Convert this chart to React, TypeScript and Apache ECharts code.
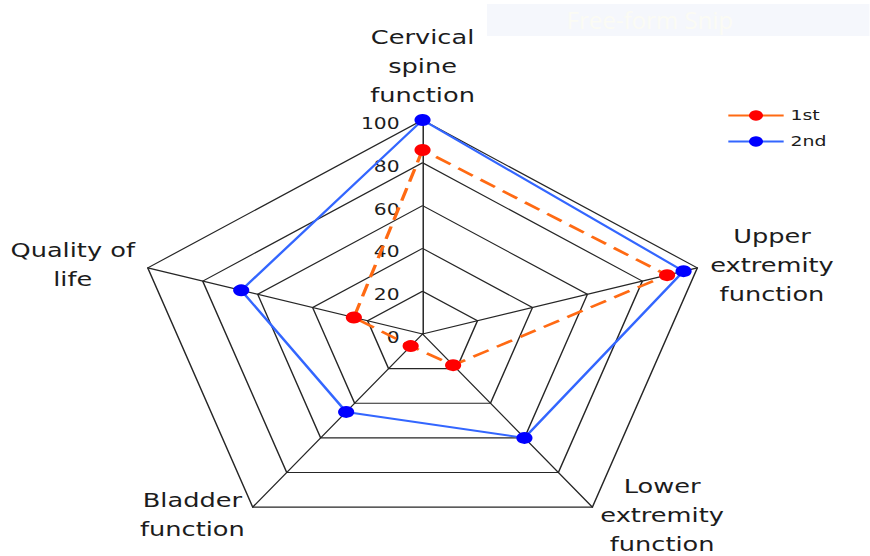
import React, { useEffect, useRef } from 'react';
import * as echarts from 'echarts';

// Indicators listed counter-clockwise from the top (ECharts radar order)
const indicators = [
  'Cervical\nspine\nfunction',
  'Quality of\nlife',
  'Bladder\nfunction',
  'Lower\nextremity\nfunction',
  'Upper\nextremity\nfunction',
];
const axisMin = 0;
const axisMax = 100;
const tickInterval = 20;
const seriesNames = ['1st', '2nd'];
const firstValues = [86, 25, 7, 18, 89];
const secondValues = [100, 66, 45, 60, 95];
const snipText = 'Free-form Snip';

const SX = 1.35;
const CW = 870 / SX;
const CH = 556;
const FONT = 'DejaVu Sans';
const TEXT = '#1c1c1c';
const GRID = '#262626';

export default function App() {
  const ref = useRef<HTMLDivElement>(null);
  useEffect(() => {
    if (!ref.current) return;
    const chart = echarts.init(ref.current, undefined, { renderer: 'svg' });
    const center = [313, 334];
    const radius = 214;
    chart.setOption({
      animation: false,
      backgroundColor: '#ffffff',
      legend: {
        data: seriesNames,
        orient: 'vertical',
        left: 538.5,
        top: 108.5,
        padding: 0,
        itemWidth: 41,
        itemHeight: 13,
        itemGap: 12,
        textStyle: { fontFamily: FONT, fontSize: 14, color: TEXT },
      },
      grid: { show: false, left: 0, top: 0, width: 1, height: 1 },
      xAxis: { show: false, type: 'category', data: [] },
      yAxis: { show: false, type: 'value' },
      // label-only polar axis, its labels sit slightly below the rings as in Excel
      polar: { center: [center[0], center[1] + 3.5], radius },
      angleAxis: { show: false, startAngle: 90, min: 0, max: 360 },
      radiusAxis: {
        min: axisMin,
        max: axisMax,
        interval: tickInterval,
        axisLine: { show: false },
        axisTick: { show: false },
        splitLine: { show: false },
        axisLabel: {
          show: true,
          margin: 17,
          fontFamily: FONT,
          fontSize: 15,
          color: TEXT,
        },
      },
      radar: {
        center,
        radius,
        startAngle: 90,
        splitNumber: (axisMax - axisMin) / tickInterval,
        shape: 'polygon',
        nameGap: 10,
        indicator: indicators.map((name) => ({ name, min: axisMin, max: axisMax })),
        axisName: {
          color: TEXT,
          fontFamily: FONT,
          fontSize: 19,
          lineHeight: 29,
          formatter: (name: string) =>
            name
              .split('\n')
              .map((l) => '{c|' + l + '}')
              .join('\n'),
          rich: {
            c: {
              align: 'center',
              color: TEXT,
              fontFamily: FONT,
              fontSize: 19,
              lineHeight: 29,
            },
          },
        },
        axisLine: { lineStyle: { color: GRID, width: 1.1 } },
        splitLine: { lineStyle: { color: GRID, width: 1.1 } },
        splitArea: { show: false },
        axisTick: { show: false },
        axisLabel: { show: false },
      },
      series: [
        {
          type: 'line',
          name: seriesNames[0],
          data: [],
          symbol: 'circle',
          itemStyle: { color: '#ff0000' },
          lineStyle: { color: '#ff6a13', width: 2 },
        },
        {
          type: 'line',
          name: seriesNames[1],
          data: [],
          symbol: 'circle',
          itemStyle: { color: '#0000ff' },
          lineStyle: { color: '#3366ff', width: 2 },
        },
        {
          type: 'radar',
          z: 3,
          symbol: 'circle',
          symbolSize: 12,
          data: [
            {
              name: seriesNames[0],
              value: firstValues,
              itemStyle: { color: '#ff0000' },
              lineStyle: { color: '#ff6a13', width: 2.5, type: [13, 7] },
            },
          ],
        },
        {
          type: 'radar',
          z: 2,
          symbol: 'circle',
          symbolSize: 12,
          data: [
            {
              name: seriesNames[1],
              value: secondValues,
              itemStyle: { color: '#0000ff' },
              lineStyle: { color: '#3366ff', width: 2 },
            },
          ],
        },
      ],
      graphic: [
        {
          type: 'group',
          x: 487 / SX,
          y: 4,
          scaleX: 1 / SX,
          children: [
            {
              type: 'rect',
              shape: { x: 0, y: 0, width: 383, height: 32 },
              style: { fill: '#f5f7fc' },
            },
            {
              type: 'text',
              x: 163,
              y: 16,
              style: {
                text: snipText,
                fill: '#fbfbf4',
                font: '24px "Open Sans"',
                textAlign: 'center',
                textVerticalAlign: 'middle',
              },
            },
          ],
        },
      ],
    });
    return () => chart.dispose();
  }, []);
  return (
    <div
      ref={ref}
      style={{
        position: 'absolute',
        left: 0,
        top: 0,
        width: CW,
        height: CH,
        transform: `scaleX(${SX})`,
        transformOrigin: '0 0',
      }}
    />
  );
}
